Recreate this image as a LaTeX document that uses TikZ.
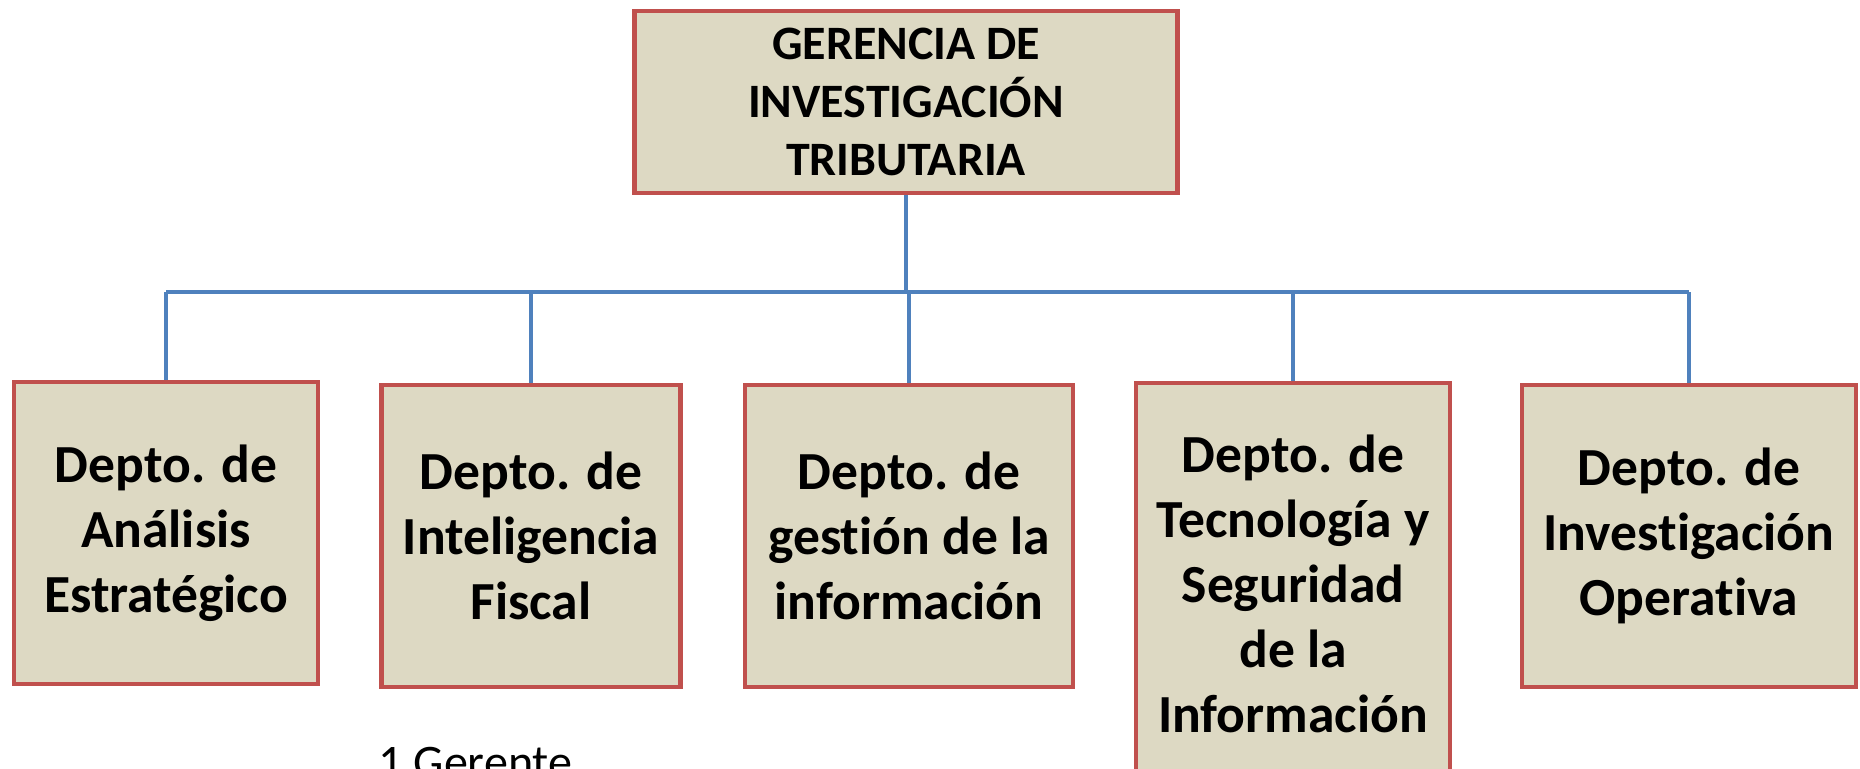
\documentclass[tikz,border=0pt]{standalone}
\usepackage{fontspec}
\setmainfont{Carlito}[Ligatures=NoCommon]
\definecolor{unitfill}{HTML}{DDD9C3}
\definecolor{unitline}{HTML}{C0504D}
\definecolor{linkblue}{HTML}{4F81BD}
\begin{document}
\begin{tikzpicture}[x=0.02cm,y=-0.02cm,
  unit/.style={draw=unitline,fill=unitfill,line width=2.6pt,align=center,inner sep=0pt,
    font=\fontsize{30.5}{37}\selectfont\bfseries},
  link/.style={draw=linkblue,line width=2.3pt}]
\useasboundingbox (0,0) rectangle (1860,768);
% gerencia
\node[unit,minimum width=10.86cm,minimum height=3.64cm,font=\fontsize{27.3}{32.8}\selectfont\bfseries] (ger) at (906,102) {GERENCIA DE\\INVESTIGACIÓN\\TRIBUTARIA};
% departamentos
\node[unit,minimum width=6.08cm,minimum height=6.04cm] (dep1) at (166,533) {Depto. de\\Análisis\\Estratégico};
\node[unit,minimum width=5.98cm,minimum height=6.04cm] (dep2) at (531,536) {Depto. de\\Inteligencia\\Fiscal};
\node[unit,minimum width=6.56cm,minimum height=6.04cm] (dep3) at (909,536) {Depto. de\\gestión de la\\información};
\node[unit,minimum width=6.28cm,minimum height=8.04cm] (dep4) at (1293,584) {Depto. de\\Tecnología y\\Seguridad\\de la\\Información};
\node[unit,minimum width=6.68cm,minimum height=6.04cm] (dep5) at (1689,536) {Depto. de\\Investigación\\Operativa};
\node[anchor=base west,inner sep=0pt,font=\fontsize{27.4}{32}\selectfont] (cargo) at (378,778) {1 Gerente};
% conectores
\coordinate (bus) at (910,292);
\draw[link] (ger.south) -- (ger.south |- bus);
\draw[link] (dep1.north |- bus) -- (dep5.north |- bus);
\foreach \d in {dep1,dep2,dep3,dep4,dep5} \draw[link] (\d.north) -- (\d.north |- bus);
\end{tikzpicture}
\end{document}
